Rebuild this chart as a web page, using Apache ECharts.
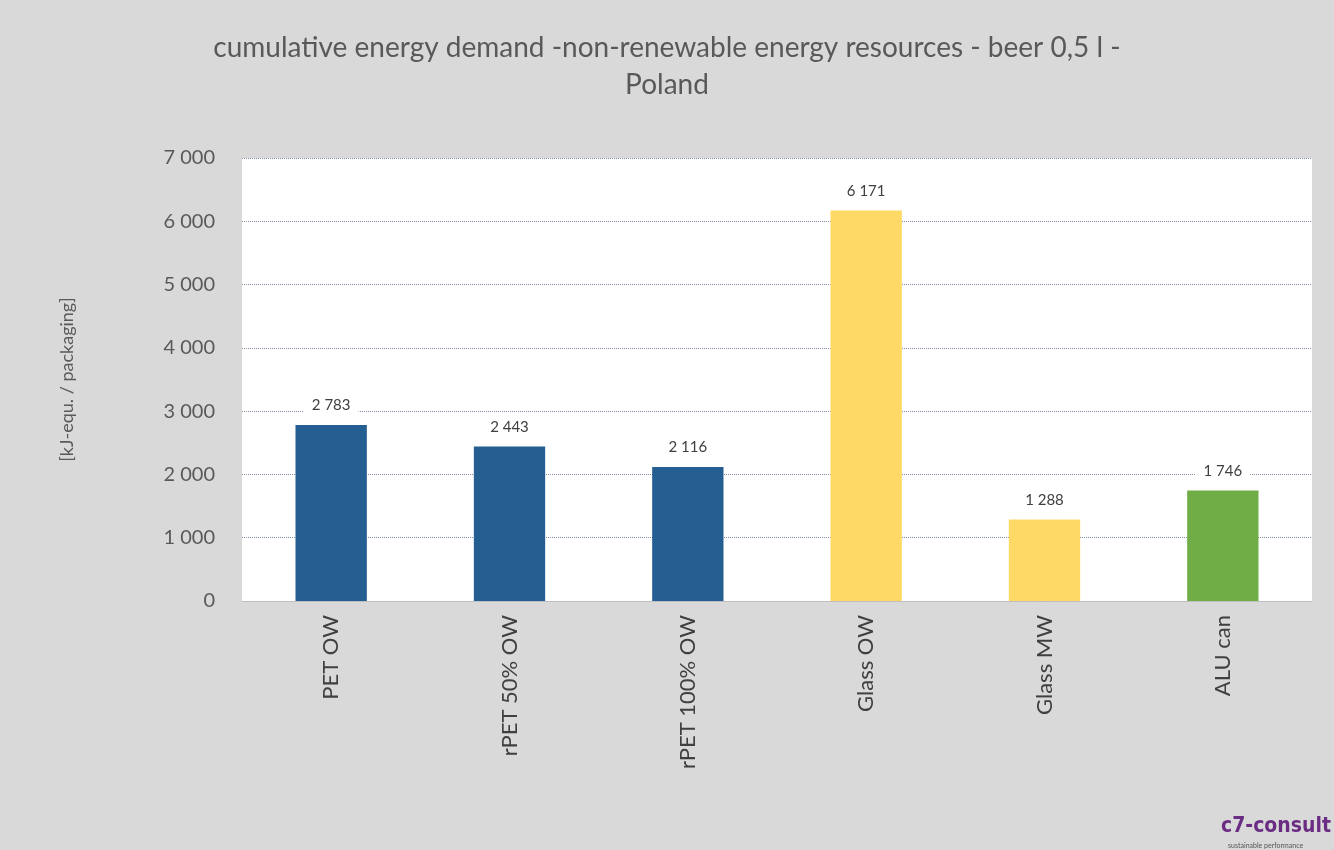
<!DOCTYPE html>
<html><head><meta charset="utf-8">
<script src="https://cdn.jsdelivr.net/npm/echarts@6/dist/echarts.min.js"></script>
<style>html,body{margin:0;padding:0;background:#fff}#c{width:1334px;height:850px}</style>
</head><body><div id="c"></div>
<script>
const categories = ['PET OW', 'rPET 50% OW', 'rPET 100% OW', 'Glass OW', 'Glass MW', 'ALU can'];
const values = [2783, 2443, 2116, 6171, 1288, 1746];
const barColors = ['#255e91', '#255e91', '#255e91', '#ffd966', '#ffd966', '#70ad47'];
const yTicks = [0, 1000, 2000, 3000, 4000, 5000, 6000, 7000];
const titleText = 'cumulative energy demand -non-renewable energy resources - beer 0,5 l -\nPoland';
const yName = '[kJ-equ. / packaging]';

const fmt = v => String(v).replace(/\B(?=(\d{3})+(?!\d))/g, ' ');
const FONT = 'Lato';
const chart = echarts.init(document.getElementById('c'));
chart.setOption({
  backgroundColor: '#d9d9d9',
  textStyle: {fontFamily: FONT},
  title: {
    text: titleText, left: 'center', top: 24,
    textStyle: {fontFamily: FONT, fontSize: 28, fontWeight: 'normal', color: '#595959', lineHeight: 37}
  },
  grid: {left: 242, right: 22, top: 158, bottom: 249, show: true, backgroundColor: '#ffffff', borderWidth: 0},
  xAxis: {
    type: 'category', data: categories,
    axisLine: {show: true, lineStyle: {color: '#bfbfbf'}},
    axisTick: {show: false},
    axisLabel: {rotate: 90, fontSize: 22, color: '#404040', margin: 14, fontFamily: FONT}
  },
  yAxis: {
    type: 'value', min: yTicks[0], max: yTicks[yTicks.length - 1], interval: 1000,
    name: yName, nameLocation: 'middle', nameRotate: 90, nameGap: 166,
    nameTextStyle: {fontSize: 18, color: '#595959', fontFamily: FONT},
    axisLine: {show: false}, axisTick: {show: false},
    axisLabel: {fontSize: 20, color: '#595959', margin: 27, fontFamily: FONT, formatter: v => fmt(v)},
    splitLine: {lineStyle: {color: '#7f8ea3', type: 'dotted', width: 1}}
  },
  series: [{
    type: 'bar', barWidth: '40%',
    data: values.map((v, i) => ({value: v, itemStyle: {color: barColors[i]}})),
    label: {
      show: true, position: 'top', distance: 9, fontSize: 15, color: '#404040', fontFamily: FONT,
      backgroundColor: '#ffffff', padding: [3, 8],
      formatter: p => fmt(p.value)
    }
  }],
  graphic: [
    {type: 'text', right: 3, top: 816, style: {text: 'c7-consult', fontFamily: 'DejaVu Sans Condensed, DejaVu Sans', fontSize: 21, fontWeight: 'bold', fill: '#6b2d84'}},
    {type: 'text', left: 1228, top: 842, style: {text: 'sustainable performance', fontFamily: FONT, fontSize: 7, fill: '#555555'}}
  ]
});
</script></body></html>
